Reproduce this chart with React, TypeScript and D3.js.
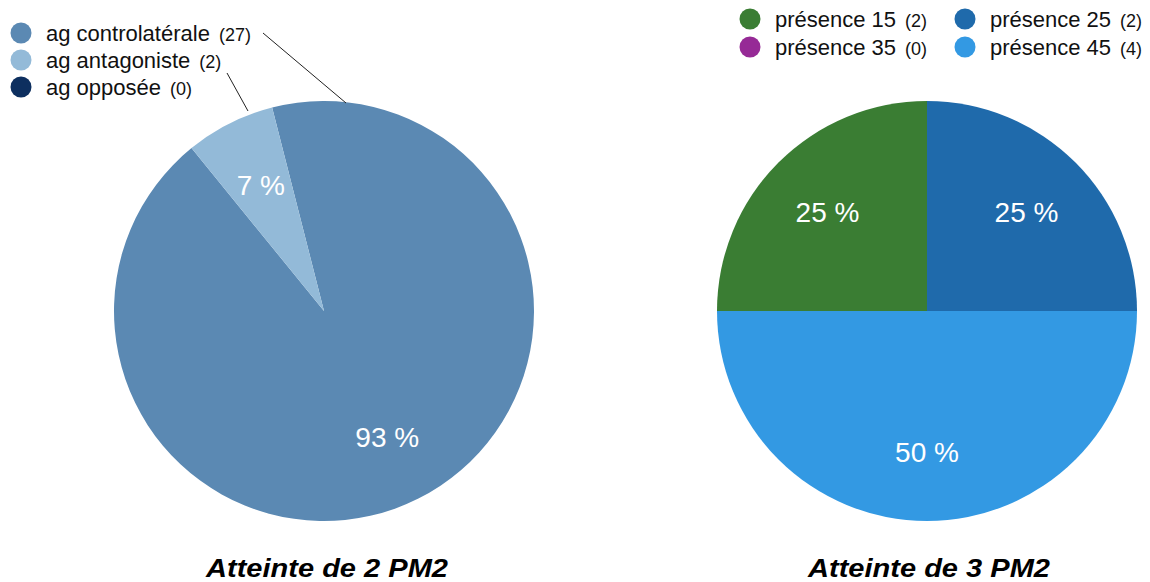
import React from 'react';
import * as d3 from 'd3';

// left pie: laterality
const leftLabels = ['ag controlatérale', 'ag antagoniste', 'ag opposée'];
const leftValues = [27, 2, 0];
const leftColors = ['#5b89b3', '#93bad8', '#0d2f5f'];

// right pie: presence
const rightLabels = ['présence 15', 'présence 25', 'présence 35', 'présence 45'];
const rightValues = [2, 2, 0, 4];
const rightColors = ['#3a7d33', '#1f6aab', '#962a96', '#3399e3'];

const titles = ['Atteinte de 2 PM2', 'Atteinte de 3 PM2'];

const FONT = '"Liberation Sans", Arial, Helvetica, sans-serif';
const R = 210;

type PieProps = {
  cx: number;
  cy: number;
  values: number[];
  colors: string[];
  startAngle: number;
};

const Pie = ({ cx, cy, values, colors, startAngle }: PieProps) => {
  const pie = d3
    .pie<number>()
    .sort(null)
    .value((d) => d)
    .startAngle(startAngle)
    .endAngle(startAngle + 2 * Math.PI);
  const arcs = pie(values);
  const arc = d3.arc<d3.PieArcDatum<number>>().innerRadius(0).outerRadius(R);
  const labelArc = d3
    .arc<d3.PieArcDatum<number>>()
    .innerRadius(R * 0.67)
    .outerRadius(R * 0.67);
  const total = d3.sum(values);

  return (
    <g transform={`translate(${cx},${cy})`}>
      {arcs.map((a, i) =>
        a.value > 0 ? <path key={i} d={arc(a) || ''} fill={colors[i]} /> : null
      )}
      {arcs.map((a, i) => {
        if (a.value <= 0) return null;
        const [x, y] = labelArc.centroid(a);
        return (
          <text
            key={'l' + i}
            x={x}
            y={y}
            dy="0.36em"
            textAnchor="middle"
            fill="#fff"
            fontSize={28}
            fontFamily={FONT}
          >
            {Math.round((a.value / total) * 100)} %
          </text>
        );
      })}
    </g>
  );
};

const LegendItem = ({
  x,
  y,
  color,
  label,
  count,
}: {
  x: number;
  y: number;
  color: string;
  label: string;
  count: number;
}) => (
  <g transform={`translate(${x},${y})`}>
    <circle cx={0} cy={0} r={10.5} fill={color} />
    <text x={25} y={0} dy="0.35em" fontFamily={FONT} fontSize={22} fill="#111">
      {label}
      <tspan fontSize={18} dx={9}>
        ({count})
      </tspan>
    </text>
  </g>
);

export default function App() {
  const leftStart = (-14.3 * Math.PI) / 180;
  const rightStart = -Math.PI / 2;

  return (
    <svg
      width={1150}
      height={582}
      style={{ position: 'absolute', left: 0, top: 0, background: '#fff' }}
    >
      <Pie cx={324} cy={311} values={leftValues} colors={leftColors} startAngle={leftStart} />
      <Pie cx={927} cy={311} values={rightValues} colors={rightColors} startAngle={rightStart} />

      {/* leader lines from legend to the left pie */}
      <line x1={263} y1={33} x2={346} y2={103} stroke="#222" strokeWidth={1} />
      <line x1={227} y1={73} x2={248} y2={111} stroke="#222" strokeWidth={1} />

      {leftLabels.map((l, i) => (
        <LegendItem key={l} x={21} y={33 + i * 27} color={leftColors[i]} label={l} count={leftValues[i]} />
      ))}
      {rightLabels.map((l, i) => (
        <LegendItem
          key={l}
          x={i % 2 === 0 ? 750 : 965}
          y={19 + Math.floor(i / 2) * 28}
          color={rightColors[i]}
          label={l}
          count={rightValues[i]}
        />
      ))}

      {titles.map((t, i) => (
        <text
          key={t}
          x={i === 0 ? 327 : 929}
          y={577}
          textAnchor="middle"
          fontFamily={FONT}
          fontSize={25}
          fontWeight="bold"
          fontStyle="italic"
          fill="#000"
          textLength={242}
          lengthAdjust="spacingAndGlyphs"
        >
          {t}
        </text>
      ))}
    </svg>
  );
}
